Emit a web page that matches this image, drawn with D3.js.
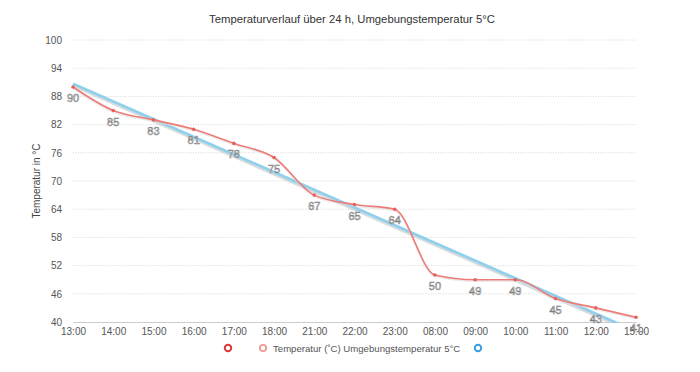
<!DOCTYPE html>
<html>
<head>
<meta charset="utf-8">
<script src="https://cdn.jsdelivr.net/npm/d3@7"></script>
<style>
  body { margin: 0; background: #fff; }
  text { font-family: "Liberation Sans", Arial, sans-serif; }
</style>
</head>
<body>
<script>
// chart data
const hours = ['13:00', '14:00', '15:00', '16:00', '17:00', '18:00', '21:00', '22:00',
  '23:00', '08:00', '09:00', '10:00', '11:00', '12:00', '15:00'];
const temps = [90, 85, 83, 81, 78, 75, 67, 65, 64, 50, 49, 49, 45, 43, 41];
// trend line at first and last hour
const trendEnds = [90.7, 38.0];
const yTicks = [40, 46, 52, 58, 64, 70, 76, 82, 88, 94, 100];

const width = 700, height = 372;
const margin = { top: 40, right: 64, bottom: 50, left: 73 };

const svg = d3.select('body').append('svg')
  .attr('width', width)
  .attr('height', height);

// use index as key because 15:00 is there twice
const x = d3.scalePoint()
  .domain(d3.range(hours.length))
  .range([margin.left, width - margin.right]);

const y = d3.scaleLinear()
  .domain([40, 100])
  .range([height - margin.bottom, margin.top]);

svg.append('defs').append('clipPath')
  .attr('id', 'plot')
  .append('rect')
  .attr('x', margin.left - 5)
  .attr('y', margin.top - 5)
  .attr('width', width - margin.left - margin.right + 10)
  .attr('height', y(40) - margin.top + 6);

// title
svg.append('text')
  .attr('x', 352)
  .attr('y', 23)
  .attr('text-anchor', 'middle')
  .attr('font-size', 11.3)
  .attr('fill', '#333')
  .text('Temperaturverlauf über 24 h, Umgebungstemperatur 5°C');

// grid + y axis
const yAxis = svg.append('g')
  .attr('transform', `translate(${margin.left},0)`)
  .call(d3.axisLeft(y).tickValues(yTicks).tickSize(0).tickPadding(11)
    .tickFormat(d3.format('d')));
yAxis.select('.domain').remove();
yAxis.selectAll('text').attr('font-size', 10).attr('fill', '#555');

svg.append('g').selectAll('line')
  .data(yTicks.filter(d => d > 40))
  .enter().append('line')
  .attr('x1', margin.left)
  .attr('x2', width - margin.right)
  .attr('y1', d => y(d))
  .attr('y2', d => y(d))
  .attr('stroke', '#ccc')
  .attr('stroke-width', 0.8)
  .attr('stroke-dasharray', '1,1.5');

// x axis
const xAxis = svg.append('g')
  .attr('transform', `translate(0,${y(40)})`)
  .call(d3.axisBottom(x).tickSize(0).tickPadding(6).tickFormat(i => hours[i]));
xAxis.select('.domain').attr('stroke', '#ccc');
xAxis.selectAll('text').attr('font-size', 10).attr('fill', '#555');

// y axis title
svg.append('text')
  .attr('transform', `translate(40,${(margin.top + y(40)) / 2}) rotate(-90)`)
  .attr('text-anchor', 'middle')
  .attr('font-size', 10)
  .attr('fill', '#444')
  .text('Temperatur in °C');

const plot = svg.append('g').attr('clip-path', 'url(#plot)');

// trend line with its shadow
const last = hours.length - 1;
const trendLine = d3.line().x(d => x(d[0])).y(d => y(d[1]));
const trendData = [[0, trendEnds[0]], [last, trendEnds[1]]];
plot.append('path')
  .datum(trendData)
  .attr('d', trendLine)
  .attr('transform', 'translate(0,2)')
  .attr('fill', 'none')
  .attr('stroke', '#c9cdd2')
  .attr('stroke-width', 3)
  .attr('opacity', 0.7);
plot.append('path')
  .datum(trendData)
  .attr('d', trendLine)
  .attr('fill', 'none')
  .attr('stroke', '#8fd0ec')
  .attr('stroke-width', 2.8);

// temperature curve
const tempLine = d3.line()
  .x((d, i) => x(i))
  .y(d => y(d))
  .curve(d3.curveMonotoneX);

plot.append('path')
  .datum(temps)
  .attr('d', tempLine)
  .attr('transform', 'translate(0,1.5)')
  .attr('fill', 'none')
  .attr('stroke', '#ddd')
  .attr('stroke-width', 1.5)
  .attr('opacity', 0.6);
plot.append('path')
  .datum(temps)
  .attr('d', tempLine)
  .attr('fill', 'none')
  .attr('stroke', '#ec7c78')
  .attr('stroke-width', 1.6);

svg.append('g').selectAll('circle')
  .data(temps)
  .enter().append('circle')
  .attr('cx', (d, i) => x(i))
  .attr('cy', d => y(d))
  .attr('r', 1.8)
  .attr('fill', '#e8605c');

// value labels, outlined look
svg.append('g').selectAll('text')
  .data(temps)
  .enter().append('text')
  .attr('x', (d, i) => x(i))
  .attr('y', d => y(d) + 15)
  .attr('text-anchor', 'middle')
  .attr('font-size', 11)
  .attr('fill', '#fafafa')
  .attr('stroke', '#7a7a7a')
  .attr('stroke-width', 0.55)
  .text(d => d);

// legend
const legend = svg.append('g').attr('transform', 'translate(0,348)');
legend.append('circle')
  .attr('cx', 228).attr('cy', 0).attr('r', 3.2)
  .attr('fill', 'none').attr('stroke', '#d93a36').attr('stroke-width', 2);
legend.append('circle')
  .attr('cx', 263).attr('cy', 0).attr('r', 3.2)
  .attr('fill', 'none').attr('stroke', '#f09a96').attr('stroke-width', 1.8);
legend.append('text')
  .attr('x', 273).attr('y', 3.5)
  .attr('font-size', 9.6)
  .attr('fill', '#555')
  .text('Temperatur (˚C) Umgebungstemperatur 5°C');
legend.append('circle')
  .attr('cx', 478).attr('cy', 0).attr('r', 3.2)
  .attr('fill', 'none').attr('stroke', '#3b9fe0').attr('stroke-width', 2);
</script>
</body>
</html>
